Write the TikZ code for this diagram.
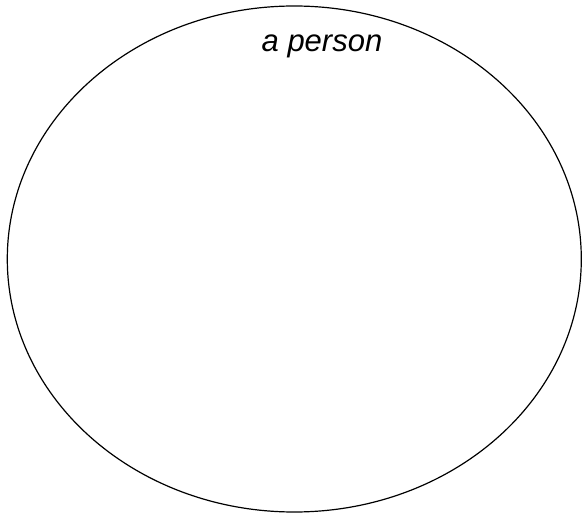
\documentclass[tikz,border=0pt]{standalone}
\usepackage{fontspec}
\setmainfont{Liberation Sans}
\begin{document}
\begin{tikzpicture}[x=1pt,y=-1pt,
  outline/.style={draw=black,line width=1.2pt},
  label/.style={font=\fontsize{31}{36}\selectfont\itshape,inner sep=0pt,anchor=base}]
\useasboundingbox (0,0) rectangle (582,513);
\draw[outline] (294.3,259) ellipse [x radius=287,y radius=253];
\node[label] (lbl) at (322,52) {a person};
\end{tikzpicture}
\end{document}
